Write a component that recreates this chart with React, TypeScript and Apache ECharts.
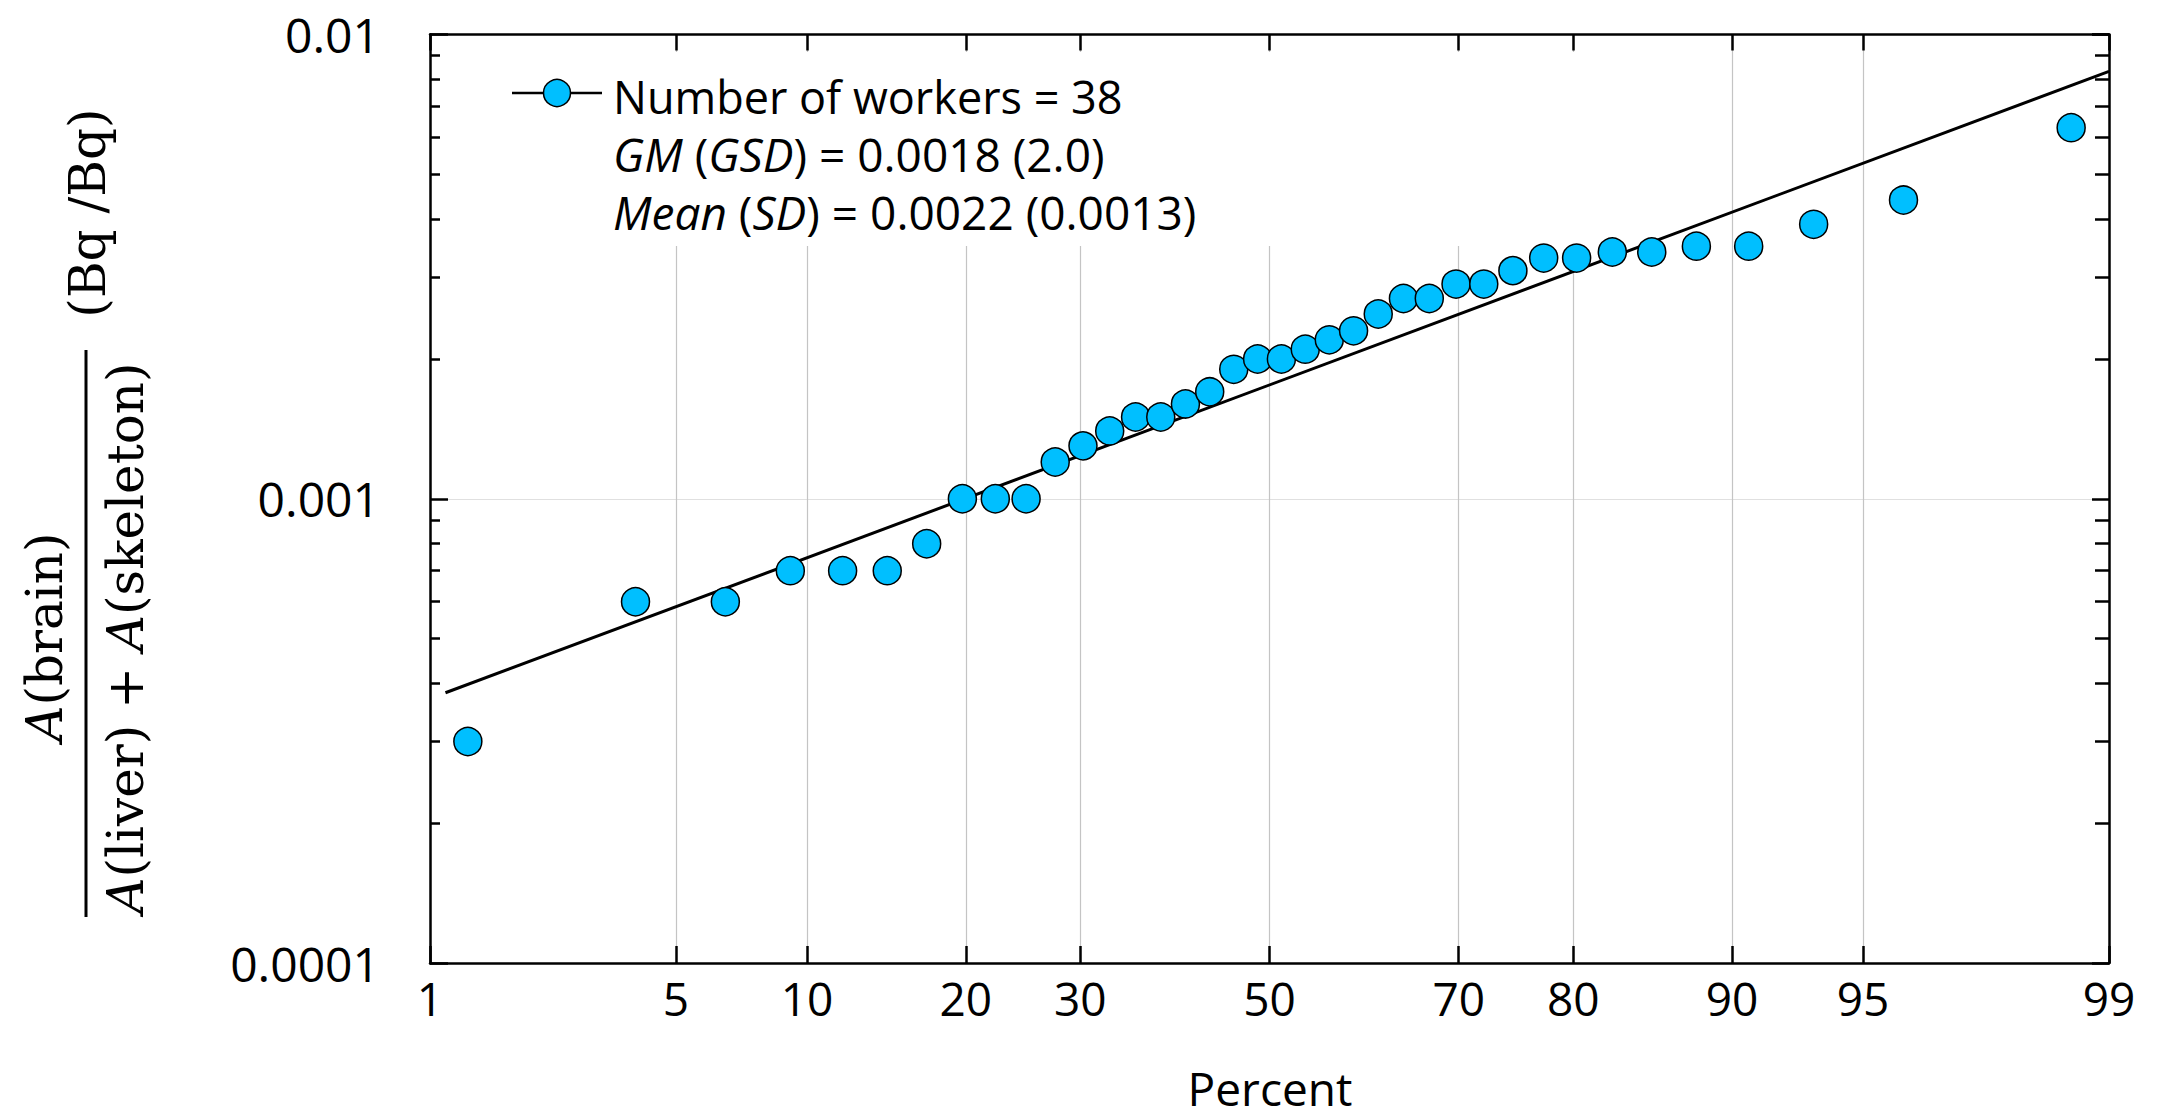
import React, { useEffect, useRef } from 'react';
import * as echarts from 'echarts';

// Cumulative percent (plotting position) of each worker, and the measured ratio
const pointPercents = [
  1.316, 3.947, 6.579, 9.211, 11.842, 14.474, 17.105, 19.737, 22.368, 25.0,
  27.632, 30.263, 32.895, 35.526, 38.158, 40.789, 43.421, 46.053, 48.684, 51.316,
  53.947, 56.579, 59.211, 61.842, 64.474, 67.105, 69.737, 72.368, 75.0, 77.632,
  80.263, 82.895, 85.526, 88.158, 90.789, 93.421, 96.053, 98.684,
];
const pointValues = [
  0.0003, 0.0006, 0.0006, 0.0007, 0.0007, 0.0007, 0.0008, 0.001, 0.001, 0.001,
  0.0012, 0.0013, 0.0014, 0.0015, 0.0015, 0.0016, 0.0017, 0.0019, 0.002, 0.002,
  0.0021, 0.0022, 0.0023, 0.0025, 0.0027, 0.0027, 0.0029, 0.0029, 0.0031, 0.0033,
  0.0033, 0.0034, 0.0034, 0.0035, 0.0035, 0.0039, 0.0044, 0.0063,
];
// Fitted lognormal line (end points)
const fitPercents = [1.12, 99];
const fitValues = [0.000382, 0.00833];

const xTickPercents = [1, 5, 10, 20, 30, 50, 70, 80, 90, 95, 99];
const yTickValues = [0.0001, 0.001, 0.01];
const yTickLabels = ['0.0001', '0.001', '0.01'];
const yMinorTickValues = [
  0.0002, 0.0003, 0.0004, 0.0005, 0.0006, 0.0007, 0.0008, 0.0009,
  0.002, 0.003, 0.004, 0.005, 0.006, 0.007, 0.008, 0.009,
];

const legendTitle = 'Number of workers = 38';
const legendGM = '{i|GM} {n|(}{i|GSD}{n|) = 0.0018 (2.0)}';
const legendMean = '{i|Mean} {n|(}{i|SD}{n|) = 0.0022 (0.0013)}';
const xAxisTitle = 'Percent';

// inverse standard normal CDF (probability-scale transform)
function probit(p: number): number {
  const a = [-3.969683028665376e1, 2.209460984245205e2, -2.759285104469687e2, 1.38357751867269e2, -3.066479806614716e1, 2.506628277459239];
  const b = [-5.447609879822406e1, 1.615858368580409e2, -1.556989798598866e2, 6.680131188771972e1, -1.328068155288572e1];
  const c = [-7.784894002430293e-3, -3.223964580411365e-1, -2.400758277161838, -2.549732539343734, 4.374664141464968, 2.938163982698783];
  const d = [7.784695709041462e-3, 3.224671290700398e-1, 2.445134137142996, 3.754408661907416];
  const plow = 0.02425;
  const phigh = 1 - plow;
  let q: number, r: number;
  if (p < plow) {
    q = Math.sqrt(-2 * Math.log(p));
    return (((((c[0] * q + c[1]) * q + c[2]) * q + c[3]) * q + c[4]) * q + c[5]) / ((((d[0] * q + d[1]) * q + d[2]) * q + d[3]) * q + 1);
  }
  if (p <= phigh) {
    q = p - 0.5;
    r = q * q;
    return ((((((a[0] * r + a[1]) * r + a[2]) * r + a[3]) * r + a[4]) * r + a[5]) * q) / (((((b[0] * r + b[1]) * r + b[2]) * r + b[3]) * r + b[4]) * r + 1);
  }
  q = Math.sqrt(-2 * Math.log(1 - p));
  return -(((((c[0] * q + c[1]) * q + c[2]) * q + c[3]) * q + c[4]) * q + c[5]) / ((((d[0] * q + d[1]) * q + d[2]) * q + d[3]) * q + 1);
}

const SANS = "'Open Sans', 'Noto Sans', sans-serif";
const SERIF = "'DejaVu Serif', 'Liberation Serif', serif";
const BLUE = '#00BFFF';

export default function App() {
  const ref = useRef<HTMLDivElement>(null);

  useEffect(() => {
    if (!ref.current) return;
    const chart = echarts.init(ref.current, undefined, { renderer: 'svg' });

    const zTicks = xTickPercents.map((p) => probit(p / 100));
    const zMin = probit(xTickPercents[0] / 100);
    const zMax = probit(xTickPercents[xTickPercents.length - 1] / 100);
    const minorLog = yMinorTickValues.map((v) => Math.log10(v));
    const xFormatter = (val: number) => {
      let best = 0;
      let bd = Infinity;
      zTicks.forEach((z, i) => {
        const dd = Math.abs(z - val);
        if (dd < bd) { bd = dd; best = i; }
      });
      return String(xTickPercents[best]);
    };
    const yFormatter = (val: number) => {
      const lg = Math.log10(val);
      let best = 0;
      let bd = Infinity;
      yTickValues.forEach((v, i) => {
        const dd = Math.abs(Math.log10(v) - lg);
        if (dd < bd) { bd = dd; best = i; }
      });
      return yTickLabels[best];
    };

    const axisLineStyle = { color: '#000', width: 2.5 };
    const tickLine = { color: '#000', width: 2.5 };

    const LEG = 46;
    const LH = 48;
    const richItalic = { fontFamily: SANS, fontSize: LEG, lineHeight: LH, fontStyle: 'italic', fill: '#000' };
    const richNormal = { fontFamily: SANS, fontSize: LEG, lineHeight: LH, fontStyle: 'normal', fill: '#000' };
    const serifItalic = { fontFamily: SERIF, fontSize: 50, fontStyle: 'italic', fill: '#000' };
    const serifNormal = { fontFamily: SERIF, fontSize: 50, fontStyle: 'normal', fill: '#000' };

    chart.setOption({
      animation: false,
      backgroundColor: '#fff',
      grid: { left: 430, right: 55, top: 34.5, bottom: 157, containLabel: false, outerBoundsMode: 'none' },
      xAxis: [
        {
          type: 'value', position: 'bottom', min: zMin, max: zMax, z: 0,
          axisLine: { show: true, onZero: false, lineStyle: axisLineStyle },
          axisTick: { show: true, inside: true, length: 17, lineStyle: tickLine, customValues: zTicks },
          axisLabel: { show: true, customValues: zTicks, formatter: xFormatter, margin: 12, fontFamily: SANS, fontSize: 46, color: '#000' },
          splitLine: { show: true, lineStyle: { color: '#c4c4c4', width: 1.2 } },
        },
        {
          type: 'value', position: 'top', min: zMin, max: zMax, z: 0,
          axisLine: { show: true, onZero: false, lineStyle: axisLineStyle },
          axisTick: { show: true, inside: true, length: 16, lineStyle: tickLine, customValues: zTicks },
          axisLabel: { show: false },
          splitLine: { show: false },
        },
      ],
      yAxis: [
        {
          type: 'log', logBase: 10, min: 0.0001, max: 0.01, splitNumber: 2, position: 'left', z: 0,
          axisLine: { show: true, onZero: false, lineStyle: axisLineStyle },
          axisTick: { show: true, inside: true, length: 18, lineStyle: tickLine },
          axisLabel: { show: true, formatter: yFormatter, margin: 50, fontFamily: SANS, fontSize: 48, color: '#000' },
          splitLine: { show: true, lineStyle: { color: '#e0e0e0', width: 1.2 } },
          minorTick: { show: false },
        },
        {
          type: 'value', min: -4, max: -2, position: 'left', z: 0,
          axisLine: { show: false, onZero: false },
          axisTick: { show: true, inside: true, length: 10, lineStyle: tickLine, customValues: minorLog },
          axisLabel: { show: false },
          splitLine: { show: false },
        },
        {
          type: 'log', logBase: 10, min: 0.0001, max: 0.01, splitNumber: 2, position: 'right', z: 0,
          axisLine: { show: true, onZero: false, lineStyle: axisLineStyle },
          axisTick: { show: true, inside: true, length: 17, lineStyle: tickLine },
          axisLabel: { show: false },
          splitLine: { show: false },
        },
        {
          type: 'value', min: -4, max: -2, position: 'right', z: 0,
          axisLine: { show: false, onZero: false },
          axisTick: { show: true, inside: true, length: 14, lineStyle: tickLine, customValues: minorLog },
          axisLabel: { show: false },
          splitLine: { show: false },
        },
      ],
      series: [
        {
          type: 'line', xAxisIndex: 0, yAxisIndex: 0, z: 2,
          data: fitPercents.map((p, i) => [probit(p / 100), fitValues[i]]),
          symbol: 'none', silent: true,
          lineStyle: { color: '#000', width: 3 },
        },
        {
          type: 'scatter', xAxisIndex: 0, yAxisIndex: 0, z: 3,
          data: pointPercents.map((p, i) => [probit(p / 100), pointValues[i]]),
          symbol: 'circle', symbolSize: 28,
          itemStyle: { color: BLUE, borderColor: '#000', borderWidth: 1.5, opacity: 1 },
        },
      ],
      graphic: [
        { type: 'rect', z: 1, shape: { x: 470, y: 52, width: 1150, height: 194 }, style: { fill: '#fff' } },
        { type: 'line', z: 5, shape: { x1: 512, y1: 93, x2: 602, y2: 93 }, style: { stroke: '#000', lineWidth: 2.5 } },
        { type: 'circle', z: 6, shape: { cx: 557, cy: 93, r: 13.5 }, style: { fill: BLUE, stroke: '#000', lineWidth: 1.5 } },
        { type: 'text', z: 6, x: 613, y: 96, style: { text: legendTitle, fontFamily: SANS, fontSize: 45, lineHeight: LH, fill: '#000', align: 'left', verticalAlign: 'middle' } },
        { type: 'text', z: 6, x: 613, y: 154, style: { text: legendGM, fontFamily: SANS, fontSize: LEG, lineHeight: LH, fill: '#000', align: 'left', verticalAlign: 'middle', rich: { i: richItalic, n: richNormal } } },
        { type: 'text', z: 6, x: 613, y: 212, style: { text: legendMean, fontFamily: SANS, fontSize: LEG, lineHeight: LH, fill: '#000', align: 'left', verticalAlign: 'middle', rich: { i: richItalic, n: richNormal } } },
        // y-axis title: fraction
        { type: 'text', z: 6, x: 45, y: 637, rotation: Math.PI / 2, style: { text: '{i|A}{n|(brain)}', fontFamily: SERIF, fontSize: 50, fill: '#000', align: 'center', verticalAlign: 'middle', rich: { i: serifItalic, n: serifNormal } } },
        { type: 'line', z: 6, shape: { x1: 86, y1: 350, x2: 86, y2: 917 }, style: { stroke: '#000', lineWidth: 3 } },
        { type: 'text', z: 6, x: 126, y: 638, rotation: Math.PI / 2, style: { text: '{i|A}{n|(liver) + }{i|A}{n|(skeleton)}', fontFamily: SERIF, fontSize: 50, fill: '#000', align: 'center', verticalAlign: 'middle', rich: { i: serifItalic, n: serifNormal } } },
        { type: 'text', z: 6, x: 88, y: 213, rotation: Math.PI / 2, style: { text: '(Bq /Bq)', fontFamily: SERIF, fontSize: 50, fill: '#000', align: 'center', verticalAlign: 'middle' } },
        { type: 'text', z: 6, x: 1270, y: 1088, style: { text: xAxisTitle, fontFamily: SANS, fontSize: 46, fill: '#000', align: 'center', verticalAlign: 'middle' } },
      ],
    });

    return () => chart.dispose();
  }, []);

  return (
    <div
      ref={ref}
      style={{ position: 'fixed', left: 0, top: 0, width: 2164, height: 1120, background: '#fff' }}
    />
  );
}
